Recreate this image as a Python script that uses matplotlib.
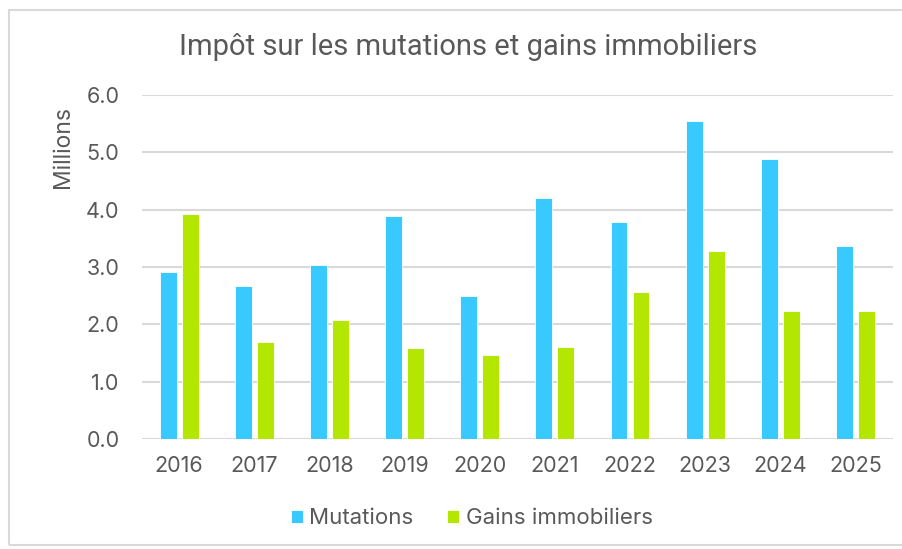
import matplotlib.pyplot as plt
from matplotlib.patches import Rectangle
import numpy as np

plt.rcParams['font.family'] = ['Inter', 'DejaVu Sans']

years = ["2016", "2017", "2018", "2019", "2020", "2021", "2022", "2023", "2024", "2025"]
mutations = [2.92, 2.67, 3.03, 3.89, 2.50, 4.20, 3.78, 5.55, 4.88, 3.36]
gains = [3.93, 1.70, 2.08, 1.59, 1.47, 1.61, 2.56, 3.28, 2.24, 2.23]

blue = "#38C9FF"
green = "#B3E600"
grey = "#595959"

fig = plt.figure(figsize=(9.02, 5.49), dpi=100)
ax = fig.add_axes([0.157, 0.2, 0.833, 0.627])

x = np.arange(len(years))
w = 0.225
off = 0.147
ax.bar(x - off, mutations, w, color=blue, edgecolor="white", linewidth=0.6, label="Mutations", zorder=3)
ax.bar(x + off, gains, w, color=green, edgecolor="white", linewidth=0.6, label="Gains immobiliers", zorder=3)

ax.set_xlim(-0.5, len(years) - 0.5)
ax.set_ylim(0, 6)
ax.set_yticks(np.arange(0, 6.1, 1.0))
ax.set_yticklabels([f"{v:.1f}" for v in np.arange(0, 6.1, 1.0)])
ax.set_xticks(x)
ax.set_xticklabels(years)
ax.tick_params(axis="both", length=0, labelsize=15.5, colors=grey)
ax.tick_params(axis="x", pad=12)
ax.tick_params(axis="y", pad=16)
ax.yaxis.grid(True, color="#d9d9d9", linewidth=1.5, zorder=0)
ax.set_axisbelow(True)
for s in ax.spines.values():
    s.set_visible(False)

fig.text(0.519, 0.914, "Impôt sur les mutations et gains immobiliers",
         ha="center", va="center", fontsize=21, color=grey, family=["Roboto", "DejaVu Sans"])
fig.text(0.07, 0.732, "Millions", rotation=90, ha="center", va="center", fontsize=16.5, color=grey)

leg = fig.legend(loc="center", bbox_to_anchor=(0.523, 0.056), ncol=2, frameon=False,
                 fontsize=16, handlelength=0.55, handleheight=0.55, handletextpad=0.3, columnspacing=1.5)
for t in leg.get_texts():
    t.set_color(grey)

fig.patches.append(Rectangle((9 / 902, 4 / 549), 1.0, 535 / 549, transform=fig.transFigure,
                             fill=False, edgecolor="#d9d9d9", linewidth=1.5))

fig.savefig("out.png", dpi=100)
